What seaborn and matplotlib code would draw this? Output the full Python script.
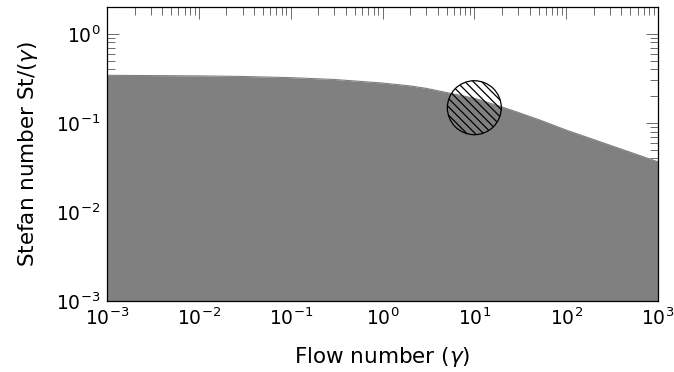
import numpy as np
import pandas as pd
import matplotlib
matplotlib.use("Agg")
import matplotlib.pyplot as plt
import seaborn as sns
from matplotlib.ticker import FixedLocator, NullFormatter, LogFormatterSciNotation

# Data
flow_number = [1e-3, 1e-2, 3e-2, 1e-1, 3e-1, 1.0, 2.0, 3.0, 5.0, 10.0,
               20.0, 30.0, 50.0, 100.0, 200.0, 300.0, 500.0, 1000.0]
stefan_number = [0.342, 0.337, 0.332, 0.322, 0.307, 0.280, 0.260, 0.244, 0.219, 0.189,
                 0.151, 0.131, 0.109, 0.083, 0.0649, 0.0561, 0.0468, 0.0365]
point_x = [10.0]
point_y = [0.148]
x_limits = [1e-3, 1e3]
y_limits = [1e-3, 2.0]
x_ticks = [1e-3, 1e-2, 1e-1, 1e0, 1e1, 1e2, 1e3]
y_ticks = [1e-3, 1e-2, 1e-1, 1e0]

sns.set_theme(style="white")
plt.rcParams["font.family"] = ["DejaVu Sans"]
plt.rcParams["mathtext.fontset"] = "dejavusans"
plt.rcParams["hatch.linewidth"] = 0.9

df = pd.DataFrame({"gamma": flow_number, "St": stefan_number})

fig = plt.figure(figsize=(6.74, 3.72), dpi=100)
ax = fig.add_axes([107 / 674, 1 - 301 / 372, 551 / 674, 294 / 372])
ax.set_xscale("log")
ax.set_yscale("log")
ax.set_axisbelow(True)

ax.fill_between(df["gamma"], y_limits[0], df["St"], color="#808080", linewidth=0, zorder=1)
sns.lineplot(data=df, x="gamma", y="St", ax=ax, color="#808080", linewidth=0.8, zorder=1)

ax.scatter(point_x, point_y, s=1510, marker="o", facecolors="none",
           edgecolors="black", linewidths=0.9, hatch=r"\\\\", zorder=3)

ax.set_xlim(x_limits)
ax.set_ylim(y_limits)

x_minor = [m * t for t in x_ticks[:-1] for m in range(2, 10)]
y_minor = [m * t for t in y_ticks for m in range(2, 10) if m * t <= y_limits[1]]
ax.xaxis.set_major_locator(FixedLocator(x_ticks))
ax.yaxis.set_major_locator(FixedLocator(y_ticks))
ax.xaxis.set_major_formatter(LogFormatterSciNotation())
ax.yaxis.set_major_formatter(LogFormatterSciNotation())
ax.xaxis.set_minor_locator(FixedLocator(x_minor))
ax.yaxis.set_minor_locator(FixedLocator(y_minor))
ax.xaxis.set_minor_formatter(NullFormatter())
ax.yaxis.set_minor_formatter(NullFormatter())

ax.tick_params(which="both", direction="in", top=True, right=True,
               bottom=True, left=True, color="#555555", width=0.6)
ax.tick_params(which="major", length=8.5, labelsize=13.5, pad=5, labelcolor="black")
ax.tick_params(which="minor", length=5.5)

for sp in ax.spines.values():
    sp.set_color("black")
    sp.set_linewidth(0.9)
    sp.set_zorder(4)

ax.set_xlabel(r"Flow number ($\gamma$)", fontsize=15.5, labelpad=11, color="black")
ax.set_ylabel(r"Stefan number St/($\gamma$)", fontsize=15.5, labelpad=11, color="black")

fig.savefig("out.png", dpi=100)
